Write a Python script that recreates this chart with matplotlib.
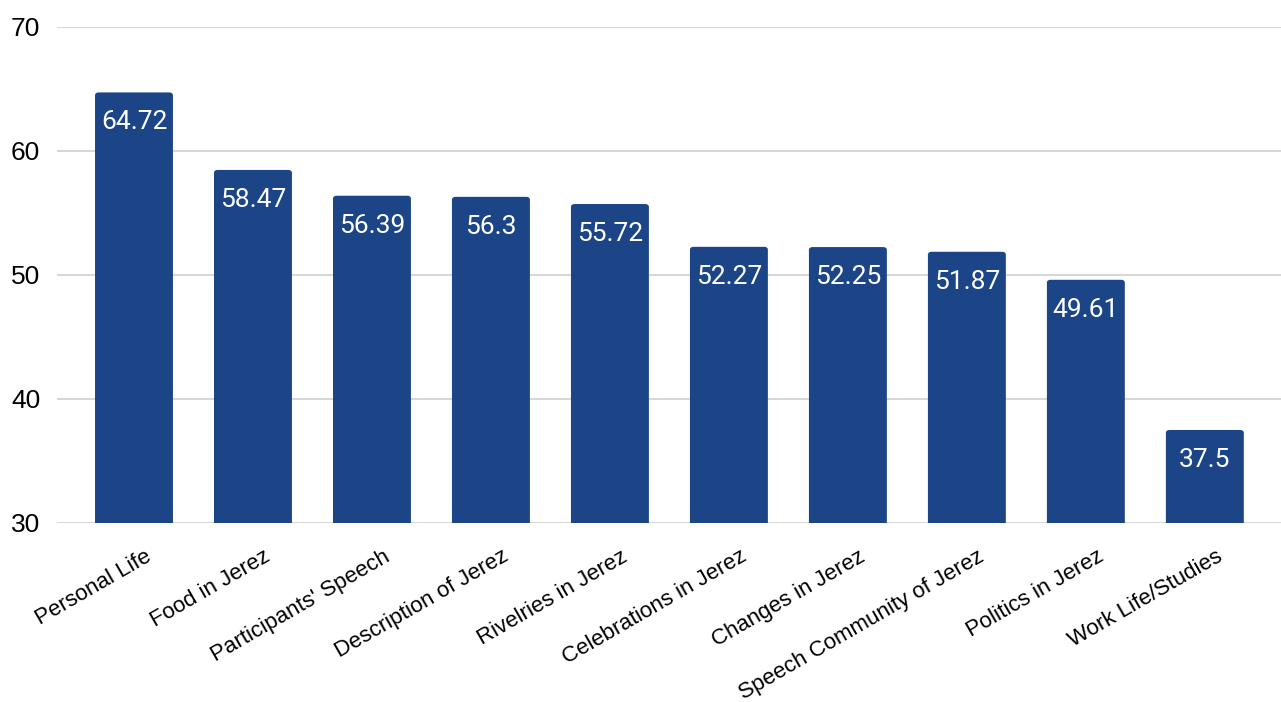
import numpy as np
import matplotlib.pyplot as plt
from matplotlib.patches import FancyBboxPatch
from matplotlib.transforms import ScaledTranslation

topics = ['Personal Life', 'Food in Jerez', "Participants' Speech",
          'Description of Jerez', 'Rivelries in Jerez', 'Celebrations in Jerez',
          'Changes in Jerez', 'Speech Community of Jerez', 'Politics in Jerez',
          'Work Life/Studies']
scores = [64.72, 58.47, 56.39, 56.3, 55.72, 52.27, 52.25, 51.87, 49.61, 37.5]
y_ticks = [30, 40, 50, 60, 70]

bar_color = '#1c4587'

fig = plt.figure(figsize=(12.81, 7.02), dpi=100)
ax = fig.add_axes([0.0445, 0.255, 0.9555, 0.7066])

x = np.arange(len(topics))
bars = ax.bar(x, [s - 29 for s in scores], bottom=29, width=0.655,
              color=bar_color, zorder=3)

# swap the plain rectangles for slightly rounded ones
for rect in bars:
    rect.set_visible(False)
    ax.add_patch(FancyBboxPatch(
        (rect.get_x(), rect.get_y()), rect.get_width(), rect.get_height(),
        boxstyle='round,pad=0,rounding_size=0.03', mutation_aspect=8.0,
        facecolor=bar_color, edgecolor='none', zorder=3))

for xi, s in zip(x, scores):
    ax.annotate(f'{s:g}', (xi, s), xytext=(0, -30), textcoords='offset pixels',
                ha='center', va='center', color='white', fontsize=19,
                family='Roboto', zorder=4)

ax.set_xlim(-0.647, 9.64)
ax.set_ylim(30, 70)
ax.set_yticks(y_ticks)
ax.yaxis.grid(True, color='#cccccc', linewidth=1.1, zorder=0)
ax.tick_params(axis='y', length=0, pad=12, labelsize=19)
ax.tick_params(axis='x', length=0, pad=0, labelsize=16)
for lbl in ax.get_yticklabels():
    lbl.set_family('Liberation Sans')

ax.set_xticks(x)
ax.set_xticklabels(topics, rotation=30, ha='right', va='center',
                   rotation_mode='anchor', family='Liberation Sans')
shift = ScaledTranslation(16 / 100, -32 / 100, fig.dpi_scale_trans)
for lbl in ax.get_xticklabels():
    lbl.set_transform(lbl.get_transform() + shift)

for side in ['top', 'right', 'left', 'bottom']:
    ax.spines[side].set_visible(False)

fig.savefig('out.png', dpi=100)
